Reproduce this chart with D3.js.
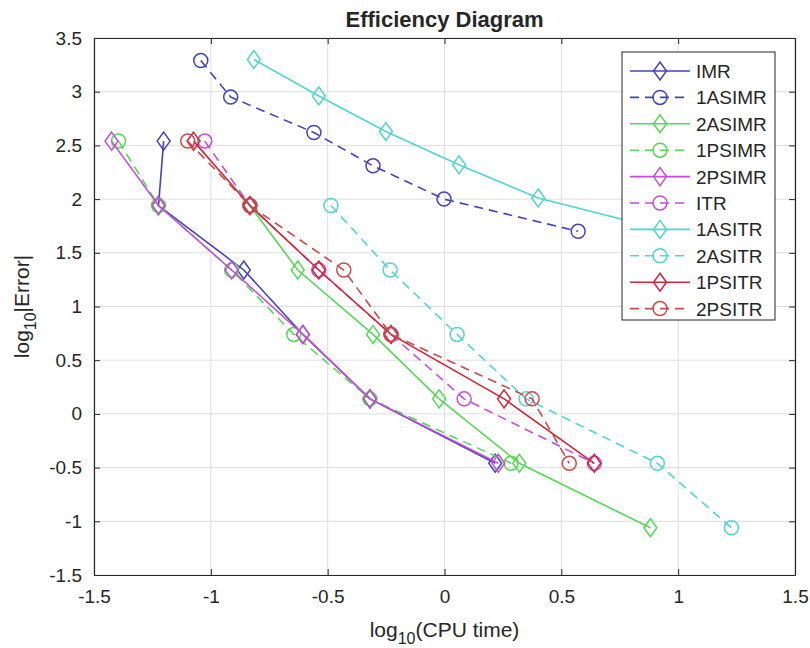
<!DOCTYPE html>
<html lang="en">
<head>
<meta charset="utf-8">
<title>Efficiency Diagram</title>
<script src="https://d3js.org/d3.v7.min.js"></script>
<style>
  body { margin: 0; background: #fff; }
  text { font-family: "Liberation Sans", Arial, sans-serif; fill: #262626; }
</style>
</head>
<body>
<script>
// series names, in legend order
var names = ["IMR", "1ASIMR", "2ASIMR", "1PSIMR", "2PSIMR", "ITR", "1ASITR", "2ASITR", "1PSITR", "2PSITR"];

// log10(CPU time) per series
var xIMR    = [-1.202, -1.224, -0.859, -0.606, -0.319, 0.217];
var x1ASIMR = [-1.043, -0.915, -0.559, -0.306, -0.002, 0.572];
var x2ASIMR = [-0.833, -0.628, -0.306, -0.023, 0.320, 0.881];
var x1PSIMR = [-1.395, -1.224, -0.911, -0.645, -0.319, 0.285];
var x2PSIMR = [-1.425, -1.224, -0.911, -0.606, -0.319, 0.230];
var xITR    = [-1.026, -0.833, -0.538, -0.229, 0.084, 0.641];
var x1ASITR = [-0.816, -0.538, -0.251, 0.062, 0.401, 0.962];
var x2ASITR = [-0.486, -0.233, 0.054, 0.349, 0.911, 1.228];
var x1PSITR = [-1.074, -0.833, -0.538, -0.229, 0.255, 0.641];
var x2PSITR = [-1.099, -0.833, -0.431, -0.229, 0.375, 0.534];

// log10|Error| per series
var yIMR    = [2.54, 1.94, 1.34, 0.74, 0.14, -0.46];
var y1ASIMR = [3.29, 2.95, 2.62, 2.31, 2.00, 1.70];
var y2ASIMR = [1.94, 1.34, 0.74, 0.14, -0.46, -1.06];
var y1PSIMR = [2.54, 1.94, 1.34, 0.74, 0.14, -0.46];
var y2PSIMR = [2.54, 1.94, 1.34, 0.74, 0.14, -0.46];
var yITR    = [2.54, 1.94, 1.34, 0.74, 0.14, -0.46];
var y1ASITR = [3.30, 2.96, 2.63, 2.32, 2.01, 1.70];
var y2ASITR = [1.94, 1.34, 0.74, 0.14, -0.46, -1.06];
var y1PSITR = [2.54, 1.94, 1.34, 0.74, 0.14, -0.46];
var y2PSITR = [2.54, 1.94, 1.34, 0.74, 0.14, -0.46];

var xTicks = [-1.5, -1, -0.5, 0, 0.5, 1, 1.5];
var yTicks = [-1.5, -1, -0.5, 0, 0.5, 1, 1.5, 2, 2.5, 3, 3.5];

var xs = [xIMR, x1ASIMR, x2ASIMR, x1PSIMR, x2PSIMR, xITR, x1ASITR, x2ASITR, x1PSITR, x2PSITR];
var ys = [yIMR, y1ASIMR, y2ASIMR, y1PSIMR, y2PSIMR, yITR, y1ASITR, y2ASITR, y1PSITR, y2PSITR];
var colors = ["#4444b8", "#4444b8", "#55d855", "#55d855", "#c44ed4", "#c44ed4", "#4fd6cf", "#4fd6cf", "#d0263a", "#c94a4a"];
var dashed = [false, true, false, true, false, true, false, true, false, true];

var w = 810, h = 648;
var margin = {top: 38, right: 15, bottom: 73, left: 94};
var fontFam = "Arial, 'Liberation Sans', sans-serif";

var svg = d3.select("body").append("svg").attr("width", w).attr("height", h);

var xScale = d3.scaleLinear().domain([-1.5, 1.5]).range([margin.left, w - margin.right]);
var yScale = d3.scaleLinear().domain([-1.5, 3.5]).range([h - margin.bottom, margin.top]);

var x0 = xScale.range()[0], x1 = xScale.range()[1];
var y0 = yScale.range()[0], y1 = yScale.range()[1];

//grid
svg.append("g").selectAll("line").data(xTicks).enter().append("line")
   .attr("x1", function(d) { return xScale(d); }).attr("x2", function(d) { return xScale(d); })
   .attr("y1", y1).attr("y2", y0).attr("stroke", "#dedede").attr("stroke-width", 1);
svg.append("g").selectAll("line").data(yTicks).enter().append("line")
   .attr("y1", function(d) { return yScale(d); }).attr("y2", function(d) { return yScale(d); })
   .attr("x1", x0).attr("x2", x1).attr("stroke", "#dedede").attr("stroke-width", 1);

svg.append("clipPath").attr("id", "plotclip").append("rect")
   .attr("x", x0).attr("y", y1).attr("width", x1 - x0).attr("height", y0 - y1);

var line = d3.line().x(function(d) { return xScale(d[0]); }).y(function(d) { return yScale(d[1]); });

function diamond(g, s) {
  g.append("path").attr("d", "M0," + (-s) + "L" + (s * 0.72) + ",0L0," + s + "L" + (-s * 0.72) + ",0Z");
}

var plot = svg.append("g").attr("clip-path", "url(#plotclip)");

names.forEach(function(name, i) {
  var pts = d3.zip(xs[i], ys[i]);
  var g = plot.append("g");
  g.append("path").datum(pts).attr("d", line)
   .attr("fill", "none").attr("stroke", colors[i]).attr("stroke-width", 1.6)
   .attr("stroke-dasharray", dashed[i] ? "9,6" : null);
  var m = g.selectAll("g.m").data(pts).enter().append("g")
   .attr("transform", function(d) { return "translate(" + xScale(d[0]) + "," + yScale(d[1]) + ")"; })
   .attr("fill", "none").attr("stroke", colors[i]).attr("stroke-width", 1.5);
  m.each(function() {
    if (dashed[i]) d3.select(this).append("circle").attr("r", 7);
    else diamond(d3.select(this), 9);
  });
});

//axes box with inward ticks
var fmt = function(d) { return String(d); };
var xAxisB = d3.axisBottom(xScale).tickValues(xTicks).tickSizeInner(-6).tickSizeOuter(0).tickPadding(15).tickFormat(fmt);
var yAxisL = d3.axisLeft(yScale).tickValues(yTicks).tickSizeInner(-6).tickSizeOuter(0).tickPadding(12).tickFormat(fmt);
var xAxisT = d3.axisTop(xScale).tickValues(xTicks).tickSizeInner(-6).tickSizeOuter(0).tickFormat("");
var yAxisR = d3.axisRight(yScale).tickValues(yTicks).tickSizeInner(-6).tickSizeOuter(0).tickFormat("");

function styleAxis(g) {
  g.selectAll("path.domain").attr("stroke", "#262626").attr("stroke-width", 1.2);
  g.selectAll(".tick line").attr("stroke", "#262626");
  g.selectAll("text").attr("font-size", 19).attr("fill", "#262626").attr("font-family", fontFam);
}

svg.append("g").attr("transform", "translate(0," + y0 + ")").call(xAxisB).call(styleAxis);
svg.append("g").attr("transform", "translate(" + x0 + ",0)").call(yAxisL).call(styleAxis);
svg.append("g").attr("transform", "translate(0," + y1 + ")").call(xAxisT).call(styleAxis);
svg.append("g").attr("transform", "translate(" + x1 + ",0)").call(yAxisR).call(styleAxis);

//title
svg.append("text").attr("x", (x0 + x1) / 2).attr("y", 27).attr("text-anchor", "middle")
   .attr("font-size", 22).attr("font-weight", "bold").attr("font-family", fontFam)
   .text("Efficiency Diagram");

//x label
var xl = svg.append("text").attr("x", (x0 + x1) / 2).attr("y", 637).attr("text-anchor", "middle")
   .attr("font-size", 21).attr("font-family", fontFam);
xl.append("tspan").text("log");
xl.append("tspan").attr("font-size", 16).attr("dy", 7).text("10");
xl.append("tspan").attr("dy", -7).text("(CPU time)");

//y label
var yl = svg.append("text").attr("transform", "translate(29," + ((y0 + y1) / 2) + ") rotate(-90)")
   .attr("text-anchor", "middle").attr("font-size", 21).attr("font-family", fontFam);
yl.append("tspan").text("log");
yl.append("tspan").attr("font-size", 16).attr("dy", 7).text("10");
yl.append("tspan").attr("dy", -7).text("|Error|");

//legend
var lg = svg.append("g").attr("transform", "translate(622,52)");
lg.append("rect").attr("width", 153).attr("height", 268).attr("fill", "#fff")
  .attr("stroke", "#262626").attr("stroke-width", 1);
names.forEach(function(name, i) {
  var yy = 19 + i * 26.4;
  var row = lg.append("g").attr("transform", "translate(0," + yy + ")");
  row.append("line").attr("x1", 8).attr("x2", 68).attr("y1", 0).attr("y2", 0)
     .attr("stroke", colors[i]).attr("stroke-width", 1.6)
     .attr("stroke-dasharray", dashed[i] ? "9,6" : null);
  var mk = row.append("g").attr("transform", "translate(38,0)")
     .attr("fill", "none").attr("stroke", colors[i]).attr("stroke-width", 1.5);
  if (dashed[i]) mk.append("circle").attr("r", 7);
  else diamond(mk, 9);
  row.append("text").attr("x", 74).attr("y", 7).attr("font-size", 19).attr("font-family", fontFam)
     .text(name);
});
</script>
</body>
</html>
